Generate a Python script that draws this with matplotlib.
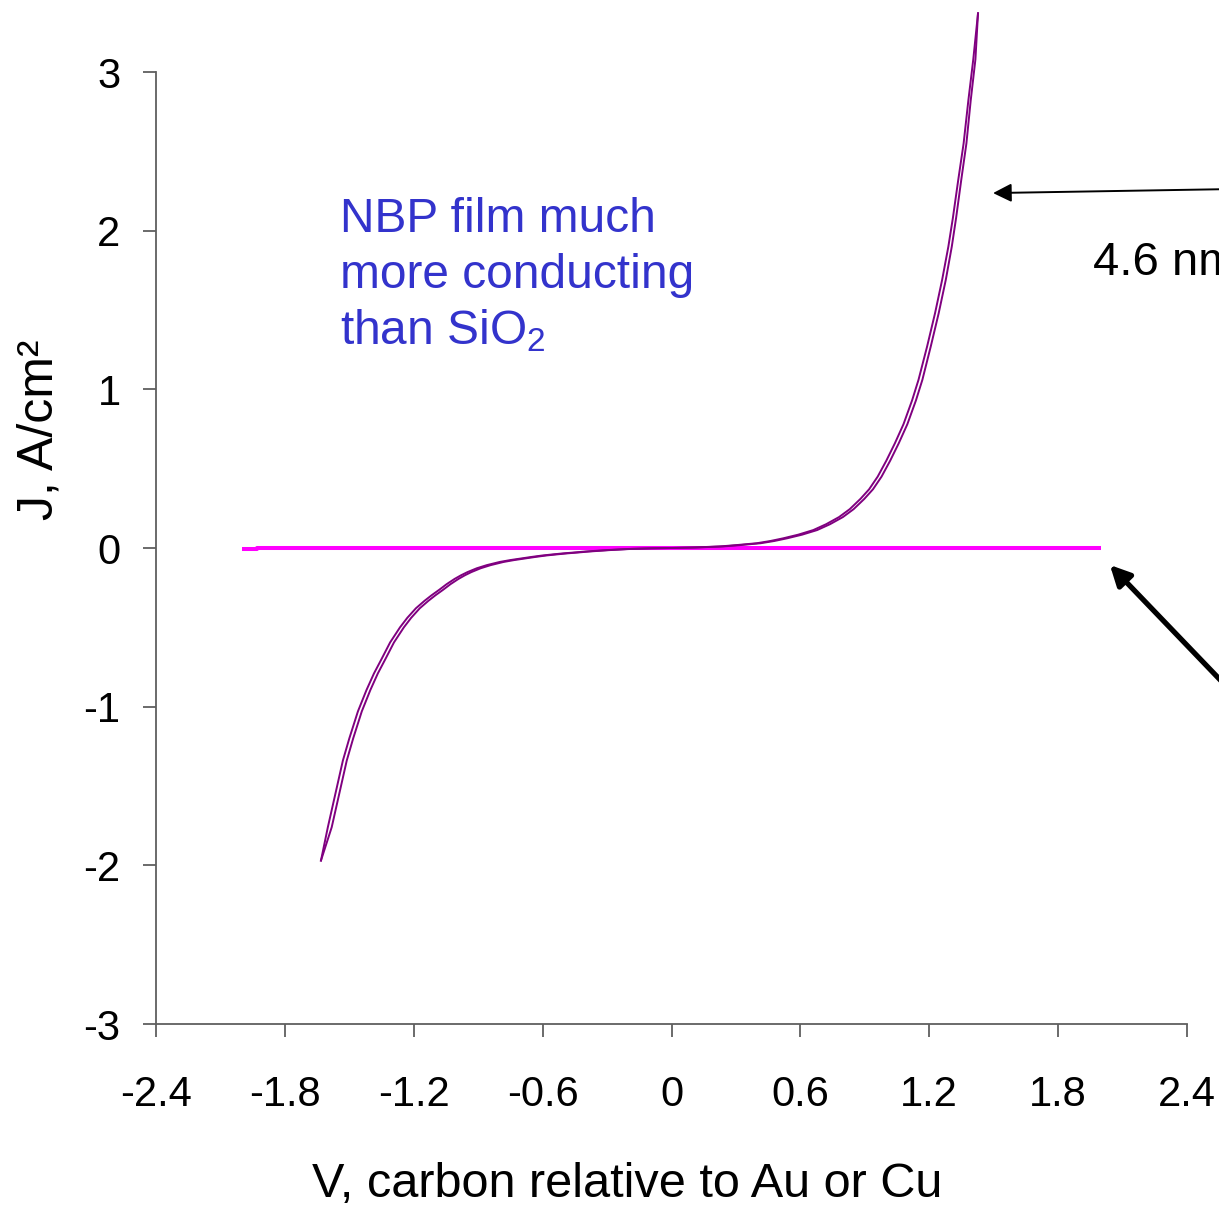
import matplotlib
matplotlib.use("Agg")
import matplotlib.pyplot as plt

plt.rcParams["font.family"] = ["Liberation Sans", "DejaVu Sans"]
plt.rcParams["mathtext.fontset"] = "custom"
plt.rcParams["mathtext.rm"] = "Liberation Sans"

# Axis ticks
x_ticks = [-2.4, -1.8, -1.2, -0.6, 0.0, 0.6, 1.2, 1.8, 2.4]
x_tick_labels = ["-2.4", "-1.8", "-1.2", "-0.6", "0", "0.6", "1.2", "1.8", "2.4"]
y_ticks = [-3, -2, -1, 0, 1, 2, 3]
y_tick_labels = ["-3", "-2", "-1", "0", "1", "2", "3"]

# NBP film J-V sweep, first branch (V in volts, J in A/cm^2)
v_nbp_a = [-1.632, -1.60, -1.56, -1.53, -1.50, -1.46, -1.42, -1.385, -1.35, -1.31,
           -1.264, -1.23, -1.19, -1.15, -1.117, -1.08, -1.047, -1.01, -0.98, -0.95,
           -0.907, -0.86, -0.80, -0.75, -0.705, -0.65, -0.60, -0.55, -0.505, -0.45,
           -0.40, -0.30, -0.20, -0.10, 0.0, 0.10, 0.226, 0.30, 0.397, 0.46,
           0.52, 0.59, 0.66, 0.72, 0.78, 0.83, 0.88, 0.92, 0.96, 1.00,
           1.04, 1.08, 1.12, 1.15, 1.19, 1.227, 1.26, 1.289, 1.31, 1.335,
           1.36, 1.382, 1.405, 1.427]
j_nbp_a = [-1.97, -1.76, -1.52, -1.34, -1.20, -1.03, -0.895, -0.79, -0.70, -0.595,
           -0.50, -0.44, -0.38, -0.333, -0.298, -0.262, -0.228, -0.195, -0.172, -0.152,
           -0.128, -0.108, -0.088, -0.076, -0.067, -0.056, -0.047, -0.040, -0.034, -0.028,
           -0.022, -0.013, -0.006, -0.002, 0.0, 0.003, 0.01, 0.018, 0.03, 0.044,
           0.061, 0.084, 0.113, 0.15, 0.195, 0.245, 0.31, 0.37, 0.45, 0.55,
           0.66, 0.78, 0.93, 1.06, 1.27, 1.48, 1.69, 1.90, 2.08, 2.32,
           2.55, 2.82, 3.08, 3.37]

# NBP film J-V sweep, return branch
v_nbp_b = [-1.632, -1.582, -1.542, -1.512, -1.482, -1.442, -1.402, -1.367, -1.332, -1.292,
           -1.246, -1.212, -1.172, -1.132, -1.099, -1.062, -1.029, -0.992, -0.962, -0.932,
           -0.889, -0.842, -0.782, -0.732, -0.687, -0.632, -0.582, -0.532, -0.487, -0.432,
           -0.382, -0.285, -0.19, -0.09, 0.0, 0.112, 0.242, 0.317, 0.415, 0.478,
           0.538, 0.608, 0.678, 0.738, 0.798, 0.848, 0.898, 0.938, 0.978, 1.018,
           1.058, 1.098, 1.138, 1.168, 1.207, 1.244, 1.277, 1.305, 1.325, 1.349,
           1.373, 1.393, 1.415, 1.427]
j_nbp_b = j_nbp_a

# 4.6 nm SiO2 reference sweep
v_sio2 = [-2.0, -1.93, -1.93, 1.92, 1.92, 2.0]
j_sio2 = [-0.004, -0.004, 0.0, 0.0, 0.003, 0.003]

fig = plt.figure(figsize=(12.19, 12.05), dpi=100)
W, H = 1219, 1205
ax = fig.add_axes([156 / W, (H - 1024) / H, 1031 / W, 952 / H])

ax.plot(v_sio2, j_sio2, color="#ff00ff", lw=2.9, solid_capstyle="butt", zorder=2)
ax.plot(v_nbp_a, j_nbp_a, color="#800080", lw=1.4, clip_on=False, zorder=3)
ax.plot(v_nbp_b, j_nbp_b, color="#800080", lw=1.4, clip_on=False, zorder=3)

ax.set_xlim(-2.4, 2.4)
ax.set_ylim(-3, 3)
ax.set_xticks(x_ticks)
ax.set_xticklabels(x_tick_labels)
ax.set_yticks(y_ticks)
ax.set_yticklabels(y_tick_labels)

axis_grey = "#5f5f5f"
for side in ("top", "right"):
    ax.spines[side].set_visible(False)
for side in ("left", "bottom"):
    ax.spines[side].set_color(axis_grey)
    ax.spines[side].set_linewidth(1.3)
ax.tick_params(axis="both", direction="out", length=9.5, width=1.3,
               color=axis_grey, labelsize=30, labelcolor="black")
ax.tick_params(axis="x", pad=27)
ax.tick_params(axis="y", pad=16)

# Axis titles
fig.text(627 / W, (H - 1197) / H, "V, carbon relative to Au or Cu",
         fontsize=35, ha="center", va="baseline")
fig.text(53 / W, (H - 430) / H, "J, A/cm²", fontsize=36, rotation=90,
         rotation_mode="anchor", ha="center", va="baseline")

# Annotations
blue = "#3333cc"
ax.text(-1.543, 1.991, "NBP film much", color=blue, fontsize=34.5, va="baseline")
ax.text(-1.543, 1.638, "more conducting", color=blue, fontsize=34.5, va="baseline")
ax.text(-1.543, 1.285, "than SiO$_2$", color=blue, fontsize=34.5, va="baseline")

ax.text(1.962, 1.796, "4.6 nm", color="black", fontsize=34, va="center",
        clip_on=False)

ax.annotate("", xy=(1.497, 2.237), xytext=(2.95, 2.27),
            arrowprops=dict(arrowstyle="-|>", color="black", lw=1.4,
                            mutation_scale=28, shrinkA=0, shrinkB=0),
            annotation_clip=False)
ax.annotate("", xy=(2.041, -0.107), xytext=(3.06, -1.544),
            arrowprops=dict(arrowstyle="-|>", color="black", lw=3.8,
                            mutation_scale=30, shrinkA=0, shrinkB=0),
            annotation_clip=False)

fig.savefig("out.png", dpi=100)
